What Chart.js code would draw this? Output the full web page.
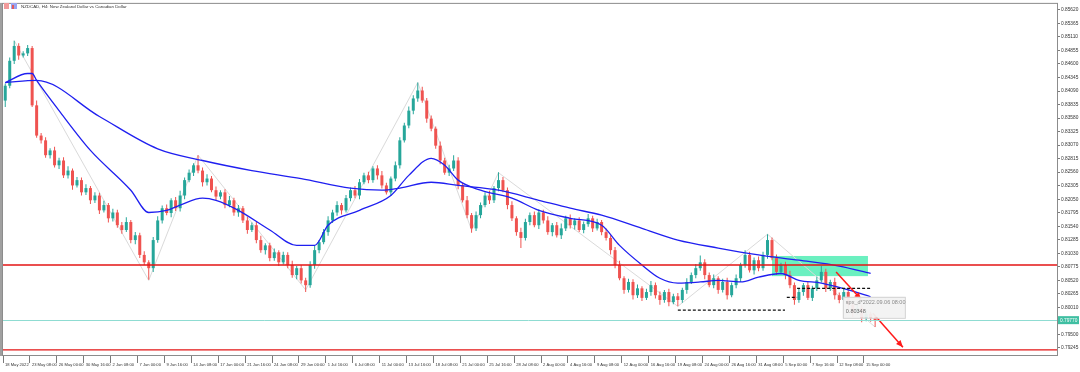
<!DOCTYPE html>
<html>
<head>
<meta charset="utf-8">
<title>NZDCAD H4</title>
<script src="https://cdn.jsdelivr.net/npm/chart.js@4.4.0/dist/chart.umd.min.js"></script>
<style>
  html, body { margin: 0; padding: 0; background: #fff; }
  canvas { display: block; }
</style>
</head>
<body>
<canvas id="chart" width="1080" height="372"></canvas>
<script>
const symbolTitle = 'NZDCAD, H4: New Zealand Dollar vs Canadian Dollar';

// H4 candles
const opens = [
  0.8391,0.8419,0.8466,0.8494,0.8476,0.8480,0.8490,0.8382,0.8325,0.8316,
  0.8288,0.8297,0.8269,0.8278,0.8250,0.8259,0.8231,0.8241,0.8218,0.8226,
  0.8203,0.8212,0.8184,0.8194,0.8169,0.8180,0.8156,0.8147,0.8162,0.8128,
  0.8137,0.8100,0.8086,0.8075,0.8128,0.8165,0.8188,0.8179,0.8203,0.8188,
  0.8212,0.8241,0.8255,0.8269,0.8259,0.8237,0.8244,0.8222,0.8210,0.8218,
  0.8194,0.8203,0.8180,0.8188,0.8165,0.8147,0.8156,0.8128,0.8109,0.8118,
  0.8094,0.8105,0.8086,0.8100,0.8081,0.8062,0.8075,0.8052,0.8043,0.8081,
  0.8109,0.8124,0.8143,0.8165,0.8180,0.8194,0.8184,0.8207,0.8222,0.8212,
  0.8237,0.8250,0.8241,0.8263,0.8250,0.8231,0.8218,0.8244,0.8269,0.8316,
  0.8344,0.8372,0.8395,0.8410,0.8391,0.8357,0.8338,0.8306,0.8278,0.8255,
  0.8263,0.8278,0.8231,0.8203,0.8175,0.8150,0.8175,0.8194,0.8212,0.8203,
  0.8226,0.8241,0.8222,0.8194,0.8169,0.8143,0.8132,0.8162,0.8175,0.8156,
  0.8180,0.8165,0.8143,0.8156,0.8137,0.8150,0.8169,0.8156,0.8165,0.8147,
  0.8158,0.8169,0.8150,0.8162,0.8143,0.8132,0.8109,0.8081,0.8056,0.8034,
  0.8049,0.8024,0.8037,0.8019,0.8030,0.8043,0.8024,0.8015,0.8030,0.8011,
  0.8022,0.8015,0.8034,0.8049,0.8062,0.8075,0.8086,0.8062,0.8043,0.8056,
  0.8034,0.8049,0.8024,0.8043,0.8056,0.8081,0.8100,0.8071,0.8090,0.8075,
  0.8100,0.8128,0.8094,0.8068,0.8081,0.8062,0.8043,0.8015,0.8030,0.8043,
  0.8019,0.8037,0.8052,0.8068,0.8037,0.8049,0.8024,0.8015,0.8030,0.8006,
  0.7992,0.8000,0.7981,0.7989,0.7981
];
const closes = [
  0.8419,0.8466,0.8494,0.8476,0.8480,0.8490,0.8382,0.8325,0.8316,0.8288,
  0.8297,0.8269,0.8278,0.8250,0.8259,0.8231,0.8241,0.8218,0.8226,0.8203,
  0.8212,0.8184,0.8194,0.8169,0.8180,0.8156,0.8147,0.8162,0.8128,0.8137,
  0.8100,0.8086,0.8075,0.8128,0.8165,0.8188,0.8179,0.8203,0.8188,0.8212,
  0.8241,0.8255,0.8269,0.8259,0.8237,0.8244,0.8222,0.8210,0.8218,0.8194,
  0.8203,0.8180,0.8188,0.8165,0.8147,0.8156,0.8128,0.8109,0.8118,0.8094,
  0.8105,0.8086,0.8100,0.8081,0.8062,0.8075,0.8052,0.8043,0.8081,0.8109,
  0.8124,0.8143,0.8165,0.8180,0.8194,0.8184,0.8207,0.8222,0.8212,0.8237,
  0.8250,0.8241,0.8263,0.8250,0.8231,0.8218,0.8244,0.8269,0.8316,0.8344,
  0.8372,0.8395,0.8410,0.8391,0.8357,0.8338,0.8306,0.8278,0.8255,0.8263,
  0.8278,0.8231,0.8203,0.8175,0.8150,0.8175,0.8194,0.8212,0.8203,0.8226,
  0.8241,0.8222,0.8194,0.8169,0.8143,0.8132,0.8162,0.8175,0.8156,0.8180,
  0.8165,0.8143,0.8156,0.8137,0.8150,0.8169,0.8156,0.8165,0.8147,0.8158,
  0.8169,0.8150,0.8162,0.8143,0.8132,0.8109,0.8081,0.8056,0.8034,0.8049,
  0.8024,0.8037,0.8019,0.8030,0.8043,0.8024,0.8015,0.8030,0.8011,0.8022,
  0.8015,0.8034,0.8049,0.8062,0.8075,0.8086,0.8062,0.8043,0.8056,0.8034,
  0.8049,0.8024,0.8043,0.8056,0.8081,0.8100,0.8071,0.8090,0.8075,0.8100,
  0.8128,0.8094,0.8068,0.8081,0.8062,0.8043,0.8015,0.8030,0.8043,0.8019,
  0.8037,0.8052,0.8068,0.8037,0.8049,0.8024,0.8015,0.8030,0.8006,0.7992,
  0.8000,0.7981,0.7989,0.7981,0.7977
];
// shadow lengths in pips (0.0001) above and below the body
const wickUpPips = [
  4,6,10,5,4,6,4,9,5,6, 4,7,5,6,8,4,6,5,7,4, 6,5,8,4,7,5,6,9,4,6, 5,7,4,6,8,5,7,4,6,9,
  5,6,4,19,6,8,5,7,4,6, 8,5,6,4,7,5,6,8,4,5, 7,4,6,5,8,4,6,5,7,9, 4,6,8,5,7,4,6,5,8,6,
  5,7,4,6,8,5,4,7,6,5, 8,6,15,7,5,6,4,8,5,7, 10,6,5,8,4,7,5,6,9,4, 15,6,5,7,4,8,6,5,7,6,
  5,8,4,6,9,5,7,4,6,5, 8,5,6,4,7,5,6,8,4,6, 5,7,4,6,8,5,7,4,6,5, 6,4,7,5,8,13,6,5,7,4,
  6,8,5,7,4,9,6,5,7,6, 11,5,7,4,6,8,5,7,4,6, 5,7,11,6,4,8,5,6,7,4, 6,5,7,4,5
];
const wickDownPips = [
  12,5,6,8,4,5,3,4,6,5, 6,4,7,5,6,8,4,6,5,7, 5,7,4,8,6,5,7,4,6,8, 6,5,22,7,5,6,4,8,5,6,
  7,4,6,5,8,6,4,7,5,6, 4,6,8,5,7,4,6,5,8,6, 5,7,4,6,5,8,6,13,5,7, 6,4,7,5,6,8,4,6,5,7,
  4,6,5,8,6,4,7,5,6,4, 5,7,6,4,8,5,6,7,4,6, 5,7,4,6,8,5,6,4,7,5, 6,4,8,5,7,19,5,6,4,7,
  6,5,8,4,7,5,6,8,4,6, 5,7,4,6,5,8,6,4,7,5, 8,5,6,4,7,6,9,5,8,4, 12,5,7,4,6,5,8,4,6,7,
  5,8,4,6,7,5,4,8,6,5, 7,4,6,5,8,6,9,5,7,4, 6,5,4,7,5,8,6,4,7,9, 5,8,6,7,13
];

// moving averages, sampled at bar indices
const maFastBars = [0,5,6,7,12,19,28,32,36,39,44,47,52,59,65,69,72,79,86,90,95,98,101,106,113,119,126,133,137,142,146,150,155,159,164,168,173,177,182,188,193];
const maFastValues = [0.8425,0.8442,0.8442,0.8429,0.8372,0.8297,0.8222,0.8180,0.8184,0.8194,0.8207,0.8203,0.8184,0.8147,0.8118,0.8118,0.8156,0.8184,0.8212,0.8250,0.8282,0.8269,0.8241,0.8222,0.8207,0.8184,0.8169,0.8156,0.8118,0.8081,0.8056,0.8047,0.8049,0.8052,0.8049,0.8058,0.8065,0.8052,0.8047,0.8034,0.8021];
const maSlowBars = [0,7,21,34,44,55,66,77,84,88,95,101,110,119,126,133,142,150,159,168,177,186,193];
const maSlowValues = [0.8425,0.8429,0.8361,0.8300,0.8278,0.8259,0.8244,0.8226,0.8222,0.8226,0.8237,0.8231,0.8222,0.8203,0.8188,0.8175,0.8150,0.8128,0.8113,0.8100,0.8090,0.8079,0.8065];

// zigzag swings
const zigzagBars = [2,32,43,67,92,104,110,150,170,194];
const zigzagValues = [0.8504,0.8052,0.8288,0.8034,0.8425,0.8147,0.8255,0.8003,0.8139,0.7964];

// drawn objects
const redLevels = [0.8081, 0.7921];
const zoneBars = [171.0, 192.4];
const zonePrices = [0.8098, 0.8060];
const dashedBars = [[150.0, 173.9], [174.3, 176.6], [176.6, 193.3]];
const dashedPrices = [0.7996, 0.8020, 0.8037];
const arrowBars = [[185.3, 190.9], [193.5, 200.2]];
const arrowPrices = [[0.8068, 0.8016], [0.7990, 0.7926]];
const noteBar = 186.8;
const notePrice = 0.8021;
const noteLines = ['spx_d*2022.09.06 08:00', '0.80348'];

// axes
const yTickValues = [0.79245,0.79500,0.79755,0.80010,0.80265,0.80520,0.80775,0.81030,0.81285,0.81540,0.81795,0.82050,0.82305,0.82560,0.82815,0.83070,0.83325,0.83580,0.83835,0.84090,0.84345,0.84600,0.84855,0.85110,0.85365,0.85620];
const xTickLabels = ['18 May 2022','23 May 08:00','26 May 00:00','30 May 16:00','2 Jun 08:00','7 Jun 00:00','9 Jun 16:00','14 Jun 08:00','17 Jun 00:00','21 Jun 16:00','24 Jun 08:00','29 Jun 00:00','1 Jul 16:00','6 Jul 08:00','11 Jul 00:00','13 Jul 16:00','18 Jul 08:00','21 Jul 00:00','25 Jul 16:00','28 Jul 08:00','2 Aug 00:00','4 Aug 16:00','9 Aug 08:00','12 Aug 00:00','16 Aug 16:00','19 Aug 08:00','24 Aug 00:00','26 Aug 16:00','31 Aug 08:00','5 Sep 00:00','7 Sep 16:00','12 Sep 08:00','15 Sep 00:00'];
const barsPerLabel = 6;

const UP = '#26a69a';
const DOWN = '#ef5350';
const FONT = '"Liberation Sans", Arial, sans-serif';

const highs = closes.map((c, i) => Math.max(c, opens[i]) + wickUpPips[i] * 0.0001);
const lows = closes.map((c, i) => Math.min(c, opens[i]) - wickDownPips[i] * 0.0001);
const candleColors = closes.map((c, i) => (c >= opens[i] ? UP : DOWN));
const toPoints = (bars, values) => bars.map((b, i) => ({ x: b, y: values[i] }));

const lineDefaults = { type: 'line', pointRadius: 0, fill: false };

const datasets = [
  { ...lineDefaults, label: 'ZigZag', data: toPoints(zigzagBars, zigzagValues),
    borderColor: '#dadada', borderWidth: 1, tension: 0, order: 9 },
  { type: 'bar', label: 'shadows', data: closes.map((c, i) => ({ x: i, y: [lows[i], highs[i]] })),
    backgroundColor: candleColors, maxBarThickness: 1, grouped: false, order: 8 },
  { type: 'bar', label: 'bodies', data: closes.map((c, i) => ({ x: i, y: [opens[i], c] })),
    backgroundColor: candleColors, maxBarThickness: 3, minBarLength: 1, grouped: false, order: 7 },
  { ...lineDefaults, label: 'MA slow', data: toPoints(maSlowBars, maSlowValues),
    borderColor: '#1f1ff0', borderWidth: 1.3, cubicInterpolationMode: 'monotone', order: 5 },
  { ...lineDefaults, label: 'MA fast', data: toPoints(maFastBars, maFastValues),
    borderColor: '#1f1ff0', borderWidth: 1.3, cubicInterpolationMode: 'monotone', order: 4 },
];
dashedBars.forEach((b, i) => {
  datasets.push({ ...lineDefaults, label: 'dash' + i,
    data: [{ x: b[0], y: dashedPrices[i] }, { x: b[1], y: dashedPrices[i] }],
    borderColor: '#111', borderWidth: 1.3, borderDash: [3, 2], order: 3 });
});
arrowBars.forEach((b, i) => {
  datasets.push({ ...lineDefaults, label: 'arrow' + i,
    data: [{ x: b[0], y: arrowPrices[i][0] }, { x: b[1], y: arrowPrices[i][1] }],
    borderColor: '#ff1a1a', borderWidth: 1.5, order: 2 });
});

const decor = {
  id: 'decor',
  beforeDraw(chart) {
    const { ctx, width, height } = chart;
    ctx.save();
    ctx.fillStyle = '#fff';
    ctx.fillRect(0, 0, width, height);
    ctx.restore();
  },
  beforeDatasetsDraw(chart) {
    const { ctx, scales: { x, y } } = chart;
    const x1 = x.getPixelForValue(zoneBars[0]);
    const x2 = x.getPixelForValue(zoneBars[1]);
    const y1 = y.getPixelForValue(zonePrices[0]);
    const y2 = y.getPixelForValue(zonePrices[1]);
    ctx.save();
    ctx.fillStyle = 'rgba(70, 236, 176, 0.8)';
    ctx.fillRect(x1, y1, x2 - x1, y2 - y1);
    ctx.restore();
  },
  afterDatasetsDraw(chart) {
    const { ctx, chartArea: area, scales: { x, y } } = chart;
    ctx.save();

    // price levels
    const last = closes[closes.length - 1];
    const yl = y.getPixelForValue(last);
    ctx.strokeStyle = '#8fdcd2';
    ctx.lineWidth = 1;
    ctx.beginPath();
    ctx.moveTo(0, Math.round(yl) + 0.5);
    ctx.lineTo(area.right, Math.round(yl) + 0.5);
    ctx.stroke();
    ctx.strokeStyle = '#e31414';
    ctx.lineWidth = 1.3;
    redLevels.forEach((lv) => {
      const yy = y.getPixelForValue(lv);
      ctx.beginPath();
      ctx.moveTo(0, yy);
      ctx.lineTo(area.right, yy);
      ctx.stroke();
    });

    // arrow heads
    ctx.fillStyle = '#ff1a1a';
    arrowBars.forEach((b, i) => {
      const xa = x.getPixelForValue(b[0]), ya = y.getPixelForValue(arrowPrices[i][0]);
      const xb = x.getPixelForValue(b[1]), yb = y.getPixelForValue(arrowPrices[i][1]);
      const a = Math.atan2(yb - ya, xb - xa);
      ctx.beginPath();
      ctx.moveTo(xb, yb);
      ctx.lineTo(xb - 7 * Math.cos(a) + 3 * Math.sin(a), yb - 7 * Math.sin(a) - 3 * Math.cos(a));
      ctx.lineTo(xb - 7 * Math.cos(a) - 3 * Math.sin(a), yb - 7 * Math.sin(a) + 3 * Math.cos(a));
      ctx.closePath();
      ctx.fill();
    });

    // crosshair note
    const nx = x.getPixelForValue(noteBar);
    const ny = y.getPixelForValue(notePrice);
    ctx.fillStyle = 'rgba(242, 242, 242, 0.95)';
    ctx.strokeStyle = '#d2d2d2';
    ctx.lineWidth = 1;
    ctx.fillRect(nx, ny, 62, 21);
    ctx.strokeRect(nx + 0.5, ny + 0.5, 62, 21);
    ctx.font = '5.5px ' + FONT;
    ctx.textBaseline = 'middle';
    ctx.textAlign = 'left';
    ctx.fillStyle = '#8a8a8a';
    ctx.fillText(noteLines[0], nx + 3, ny + 6);
    ctx.fillStyle = '#6a6a6a';
    ctx.fillText(noteLines[1], nx + 3, ny + 14.5);

    // frame
    ctx.strokeStyle = '#8c8c8c';
    ctx.lineWidth = 1;
    ctx.strokeRect(area.left - 0.5, area.top - 0.5, area.right - area.left + 1, area.bottom - area.top + 1);
    ctx.fillStyle = '#a0a0a0';
    ctx.fillRect(0, area.top - 1, 2, area.bottom - area.top + 2);

    // bid label on the price axis
    ctx.fillStyle = '#3fbfa2';
    ctx.fillRect(area.right + 1, yl - 4, 21, 8);
    ctx.fillStyle = '#fff';
    ctx.font = '4.8px ' + FONT;
    ctx.fillText(last.toFixed(5), area.right + 3, yl + 0.5);

    // symbol title and icons
    ctx.fillStyle = '#f29b9b';
    ctx.fillRect(4, 3, 5, 6);
    ctx.fillStyle = '#9aa6f0';
    ctx.fillRect(11, 3, 6, 6);
    ctx.fillStyle = '#e25b5b';
    ctx.fillRect(12, 5, 2, 4);
    ctx.fillStyle = '#333';
    ctx.font = '4.4px ' + FONT;
    ctx.fillText(symbolTitle, 21, 6.5);
    ctx.restore();
  },
};

new Chart(document.getElementById('chart'), {
  type: 'bar',
  data: { datasets },
  options: {
    responsive: false,
    animation: false,
    devicePixelRatio: 1,
    events: [],
    layout: { padding: { left: 3, top: 3, right: 0, bottom: 0 } },
    plugins: { legend: { display: false }, tooltip: { enabled: false } },
    scales: {
      x: {
        type: 'linear',
        min: -0.5,
        max: 234.56,
        offset: false,
        afterBuildTicks: (scale) => {
          scale.ticks = xTickLabels.map((_, k) => ({ value: k * barsPerLabel - 0.5 }));
        },
        afterFit: (scale) => { scale.height = 17; },
        grid: { display: true, drawOnChartArea: false, offset: false, tickLength: 8, color: '#7a7a7a' },
        border: { display: true, color: '#8c8c8c' },
        ticks: {
          autoSkip: false,
          maxRotation: 0,
          align: 'start',
          labelOffset: 2,
          padding: -1,
          color: '#333',
          font: { family: FONT, size: 4.1 },
          callback: (v) => xTickLabels[Math.round((v + 0.5) / barsPerLabel)] || '',
        },
      },
      y: {
        type: 'linear',
        position: 'right',
        min: 0.79113,
        max: 0.85733,
        afterBuildTicks: (scale) => {
          scale.ticks = yTickValues.map((v) => ({ value: v }));
        },
        afterFit: (scale) => { scale.width = 23; },
        grid: { display: true, drawOnChartArea: false, tickLength: 3, color: '#7a7a7a' },
        border: { display: true, color: '#8c8c8c' },
        ticks: {
          padding: 1,
          color: '#333',
          font: { family: FONT, size: 4.8 },
          callback: (v) => Number(v).toFixed(5),
        },
      },
    },
  },
  plugins: [decor],
});
</script>
</body>
</html>
